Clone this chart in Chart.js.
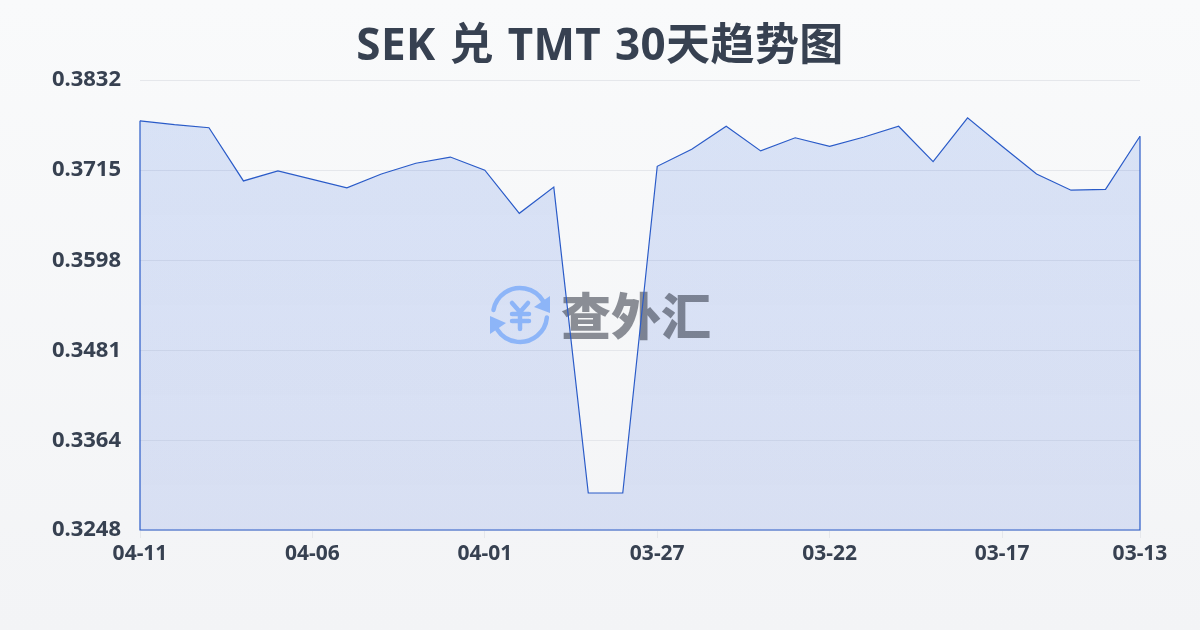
<!DOCTYPE html>
<html>
<head>
<meta charset="utf-8">
<script src="https://cdn.jsdelivr.net/npm/chart.js@4"></script>
<style>
    html, body { margin: 0; padding: 0; width: 1200px; height: 630px; overflow: hidden; }
    body { background: linear-gradient(180deg, #f9fafb 0%, #f3f4f6 100%); }
    #wrap { position: relative; width: 1200px; height: 630px; }
</style>
</head>
<body>
<div id="wrap"><canvas id="trendChart" width="1200" height="630"></canvas></div>
<script>
const titleText = 'SEK 兑 TMT 30天趋势图';
const watermarkText = '查外汇';

const dates = [
    '04-11', '04-10', '04-09', '04-08', '04-07', '04-06', '04-05', '04-04', '04-03', '04-02',
    '04-01', '03-31', '03-30', '03-29', '03-28', '03-27', '03-26', '03-25', '03-24', '03-23',
    '03-22', '03-21', '03-20', '03-19', '03-18', '03-17', '03-16', '03-15', '03-14', '03-13'
];
const rates = [
    0.3779, 0.3774, 0.3770, 0.3701, 0.3714, 0.3703, 0.3692, 0.3710, 0.3724, 0.3732,
    0.3715, 0.3659, 0.3693, 0.3296, 0.3296, 0.3720, 0.3742, 0.3772, 0.3740, 0.3757,
    0.3746, 0.3758, 0.3772, 0.3726, 0.3783, 0.3746, 0.3710, 0.3689, 0.3690, 0.3759
];
const yTicks = [0.3248, 0.3364, 0.3481, 0.3598, 0.3715, 0.3832];
const xTickLabels = ['04-11', '04-06', '04-01', '03-27', '03-22', '03-17', '03-13'];

const LINE_COLOR = '#2a5bc8';
const TEXT_COLOR = '#374151';
const FONT = '"Noto Sans", "Noto Sans CJK SC", sans-serif';

// Title centred on the whole canvas, the plot itself is off centre
const titlePlugin = {
    id: 'pageTitle',
    afterDraw(chart) {
        const ctx = chart.ctx;
        ctx.save();
        ctx.fillStyle = TEXT_COLOR;
        ctx.font = 'bold 44px ' + FONT;
        ctx.letterSpacing = '0.4px';
        ctx.wordSpacing = '2px';
        ctx.textAlign = 'center';
        ctx.textBaseline = 'alphabetic';
        ctx.fillText(titleText, chart.width / 2, 60);
        ctx.restore();
    }
};

// Closes the area: left, bottom and right edges under the line
const framePlugin = {
    id: 'frame',
    afterDatasetsDraw(chart) {
        const x = chart.scales.x, y = chart.scales.y;
        const x0 = x.getPixelForValue(0), x1 = x.getPixelForValue(dates.length - 1);
        const bottom = y.getPixelForValue(y.min);
        const ctx = chart.ctx;
        ctx.save();
        ctx.strokeStyle = LINE_COLOR;
        ctx.lineWidth = 1.2;
        ctx.beginPath();
        ctx.moveTo(x0, y.getPixelForValue(rates[0]));
        ctx.lineTo(x0, bottom);
        ctx.lineTo(x1, bottom);
        ctx.lineTo(x1, y.getPixelForValue(rates[rates.length - 1]));
        ctx.stroke();
        ctx.restore();
    }
};

// Logo sits between the area fill and the line
const watermarkPlugin = {
    id: 'watermark',
    afterDatasetDraw(chart, args) {
        if (args.index !== 0) return;
        const ctx = chart.ctx;
        ctx.save();

        ctx.strokeStyle = '#8db5f8';
        ctx.fillStyle = '#8db5f8';
        ctx.lineWidth = 4.5;
        ctx.lineCap = 'round';
        ctx.lineJoin = 'round';
        ctx.beginPath();
        ctx.arc(520, 315, 27, Math.PI * 1.06, Math.PI * 1.83);
        ctx.stroke();
        ctx.beginPath();
        ctx.arc(520, 315, 27, Math.PI * 0.03, Math.PI * 0.82);
        ctx.stroke();
        ctx.beginPath();
        ctx.moveTo(550, 296); ctx.lineTo(550, 313); ctx.lineTo(534, 307); ctx.closePath();
        ctx.fill();
        ctx.beginPath();
        ctx.moveTo(490, 316); ctx.lineTo(490, 334); ctx.lineTo(506, 323); ctx.closePath();
        ctx.fill();
        ctx.beginPath();
        ctx.moveTo(512, 303); ctx.lineTo(520, 312); ctx.lineTo(528, 303);
        ctx.moveTo(512, 314); ctx.lineTo(529, 314);
        ctx.moveTo(512, 321); ctx.lineTo(529, 321);
        ctx.moveTo(520, 312); ctx.lineTo(520, 329);
        ctx.stroke();

        ctx.fillStyle = 'rgba(30, 35, 50, 0.5)';
        ctx.font = '900 50px "Noto Sans CJK SC", sans-serif';
        ctx.textAlign = 'center';
        ctx.textBaseline = 'middle';
        ctx.fillText(watermarkText, 636, 316);
        ctx.restore();
    }
};

const ctx = document.getElementById('trendChart').getContext('2d');
const fill = ctx.createLinearGradient(0, 80, 0, 530);
fill.addColorStop(0, 'rgba(49, 104, 226, 0.16)');
fill.addColorStop(1, 'rgba(49, 94, 216, 0.14)');

new Chart(ctx, {
    type: 'line',
    data: {
        labels: dates,
        datasets: [
            // fill only, drawn first
            { data: rates, order: 2, fill: 'start', backgroundColor: fill, borderWidth: 0, pointRadius: 0, tension: 0 },
            // line on top of the logo
            { data: rates, order: 1, fill: false, borderColor: LINE_COLOR, borderWidth: 1.2, pointRadius: 0, tension: 0 }
        ]
    },
    options: {
        responsive: false,
        animation: false,
        layout: { padding: { right: 60, bottom: 0, left: 0, top: 80 } },
        plugins: {
            legend: { display: false },
            tooltip: { enabled: false },
            title: { display: false }
        },
        scales: {
            x: {
                afterFit: scale => { scale.height = 100; },
                afterBuildTicks: scale => {
                    scale.ticks = scale.ticks.filter(t => xTickLabels.includes(dates[t.value]));
                },
                grid: { drawOnChartArea: false, drawTicks: true, tickLength: 8, color: '#e5e7eb' },
                border: { display: false },
                ticks: {
                    autoSkip: false,
                    maxRotation: 0,
                    padding: 3,
                    color: TEXT_COLOR,
                    font: { family: FONT, size: 21, weight: 'bold' }
                }
            },
            y: {
                min: 0.3248,
                max: 0.3832,
                afterFit: scale => { scale.width = 140; },
                afterBuildTicks: scale => {
                    scale.ticks = yTicks.map(v => ({ value: v }));
                },
                grid: { drawTicks: false, color: '#e5e7eb' },
                border: { display: false },
                ticks: {
                    padding: 19,
                    color: TEXT_COLOR,
                    font: { family: FONT, size: 22, weight: 'bold' },
                    callback: v => v.toFixed(4)
                }
            }
        }
    },
    plugins: [watermarkPlugin, framePlugin, titlePlugin]
});
</script>
</body>
</html>
